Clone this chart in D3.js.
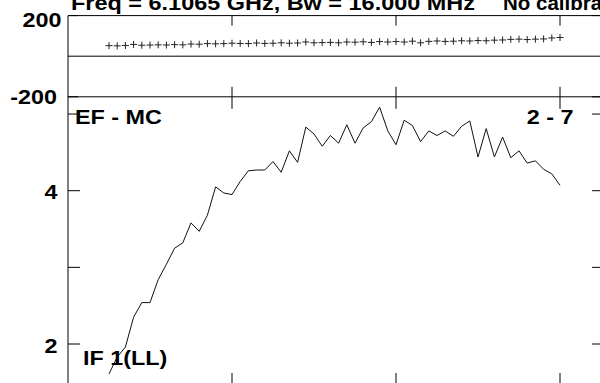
<!DOCTYPE html>
<html>
<head>
<meta charset="utf-8">
<script src="https://cdn.jsdelivr.net/npm/d3@7/dist/d3.min.js"></script>
<style>
  body { margin: 0; background: #fff; }
  svg { display: block; }
  text { font-family: "Liberation Sans", Arial, sans-serif; font-weight: bold; fill: #000; }
</style>
</head>
<body>
<svg width="600" height="383"></svg>
<script>
// channel numbers of the plotted points
var channels = [5, 6, 7, 8, 9, 10, 11, 12, 13, 14, 15, 16, 17, 18, 19, 20,
  21, 22, 23, 24, 25, 26, 27, 28, 29, 30, 31, 32, 33, 34, 35, 36, 37, 38, 39, 40,
  41, 42, 43, 44, 45, 46, 47, 48, 49, 50, 51, 52, 53, 54, 55, 56, 57, 58, 59, 60];

// amplitude (lower panel)
var amplitude = [1.61, 1.83, 1.96, 2.35, 2.54, 2.54, 2.84, 3.04, 3.25, 3.32, 3.58, 3.47,
  3.68, 4.05, 3.97, 3.95, 4.12, 4.26, 4.27, 4.27, 4.38, 4.24, 4.52, 4.37, 4.83, 4.74,
  4.58, 4.72, 4.62, 4.86, 4.62, 4.82, 4.90, 5.09, 4.78, 4.60, 4.92, 4.85, 4.64, 4.78,
  4.72, 4.78, 4.71, 4.84, 4.91, 4.44, 4.81, 4.44, 4.70, 4.43, 4.52, 4.36, 4.39, 4.28,
  4.22, 4.07];

// phase in degrees (upper panel)
var phase = [52, 51, 53, 58, 54, 55, 56, 55, 57, 56, 60, 59, 62, 61, 62, 64,
  63, 62, 65, 63, 64, 66, 64, 65, 70, 66, 67, 68, 66, 70, 69, 71, 68, 72, 70, 72,
  70, 74, 66, 73, 75, 73, 74, 76, 75, 77, 76, 79, 80, 83, 84, 82, 84, 85, 90, 92];

var xTicks = [20, 40, 60];
var ampTicks = [2, 3, 4, 5];
var ampLabels = [2, 4];
var phaseTicks = [-200, 200];

var title = "Freq = 6.1065 GHz, Bw = 16.000 MHz";
var titleNote = "No calibration";
var baselineLabel = "2 - 7";
var sourceLabel = "EF - MC";
var ifLabel = "IF 1(LL)";

var svg = d3.select('svg');

var x = d3.scaleLinear().domain([0, 60]).range([68, 560]),
    yPh = d3.scaleLinear().domain([-200, 200]).range([96.8, 15.6]),
    yAmp = d3.scaleLinear().domain([2, 4]).range([344, 190.7]);

var xLeft = x(0), xRight = x(65.5),
    ampBottom = yAmp(1.465);

var g = svg.append('g').attr('stroke', '#000').attr('stroke-width', 1).attr('fill', 'none');

// frame lines
g.append('line').attr('x1', xLeft).attr('x2', xLeft).attr('y1', yPh(200)).attr('y2', ampBottom);
g.append('line').attr('x1', xRight).attr('x2', xRight).attr('y1', yPh(200)).attr('y2', ampBottom);
[200, 0, -200].forEach(function(v){
  g.append('line').attr('x1', xLeft).attr('x2', xRight).attr('y1', yPh(v)).attr('y2', yPh(v));
});

// x ticks, upper panel (top & bottom inward), lower panel (top & bottom inward)
xTicks.forEach(function(t){
  var xx = x(t);
  g.append('line').attr('x1', xx).attr('x2', xx).attr('y1', yPh(200)).attr('y2', yPh(200) + 10);
  g.append('line').attr('x1', xx).attr('x2', xx).attr('y1', yPh(-200)).attr('y2', yPh(-200) - 10);
  g.append('line').attr('x1', xx).attr('x2', xx).attr('y1', yPh(-200)).attr('y2', yPh(-200) + 12);
  g.append('line').attr('x1', xx).attr('x2', xx).attr('y1', ampBottom).attr('y2', ampBottom - 12);
});

// y ticks
phaseTicks.forEach(function(t){
  g.append('line').attr('x1', xLeft).attr('x2', xLeft + 10).attr('y1', yPh(t)).attr('y2', yPh(t));
  g.append('line').attr('x1', xRight).attr('x2', xRight - 13).attr('y1', yPh(t)).attr('y2', yPh(t));
});
ampTicks.forEach(function(t){
  g.append('line').attr('x1', xLeft).attr('x2', xLeft + 12).attr('y1', yAmp(t)).attr('y2', yAmp(t));
  g.append('line').attr('x1', xRight).attr('x2', xRight - 13).attr('y1', yAmp(t)).attr('y2', yAmp(t));
});

// phase markers
svg.append('g').selectAll('path')
  .data(channels)
  .enter()
  .append('path')
  .attr('d', 'M-3.5,0H3.5M0,-3.5V3.5')
  .attr('transform', function(c, i){ return 'translate(' + x(c) + ',' + yPh(phase[i]) + ')'; })
  .attr('stroke', '#222')
  .attr('fill', 'none');

// amplitude line
var line = d3.line()
  .x(function(c){ return x(c); })
  .y(function(c, i){ return yAmp(amplitude[i]); });

svg.append('path')
  .datum(channels)
  .attr('d', line)
  .attr('fill', 'none')
  .attr('stroke', '#111')
  .attr('stroke-width', 1);

// text, the original is drawn a little wide
function label(str, xx, yy, anchor){
  svg.append('text')
    .attr('transform', 'translate(' + xx + ',' + yy + ') scale(1.14,1)')
    .attr('text-anchor', anchor || 'start')
    .style('font-size', '20.5px')
    .text(str);
}

label('200', 61.5, yPh(200) + 11, 'end');
label('-200', 57, yPh(-200) + 7.3, 'end');
ampLabels.forEach(function(t){
  label(String(t), 57.5, yAmp(t) + 8.5, 'end');
});

label(sourceLabel, 75, 124);
label(baselineLabel, 573.5, 124, 'end');
label(ifLabel, 83, 365);

svg.append('text')
  .attr('x', 71).attr('y', 9.5)
  .attr('textLength', 404)
  .attr('lengthAdjust', 'spacingAndGlyphs')
  .style('font-size', '20.5px')
  .text(title);

svg.append('text')
  .attr('x', 503).attr('y', 9.5)
  .style('font-size', '20.5px')
  .text(titleNote);
</script>
</body>
</html>
